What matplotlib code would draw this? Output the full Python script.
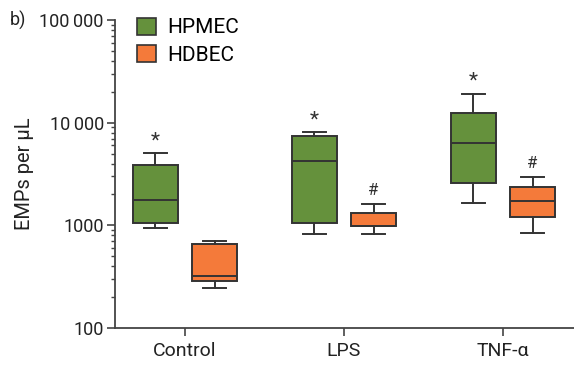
import matplotlib
matplotlib.use("Agg")
import matplotlib.pyplot as plt
from matplotlib.patches import Patch
from matplotlib.ticker import FixedLocator, LogLocator, NullFormatter

plt.rcParams["font.family"] = ["Roboto", "DejaVu Sans"]

groups = ["Control", "LPS", "TNF-\u03b1"]

# box statistics per group: lower whisker, Q1, median, Q3, upper whisker
hpmec_lo = [945, 821, 1644]
hpmec_q1 = [1050, 1050, 2575]
hpmec_med = [1770, 4270, 6300]
hpmec_q3 = [3880, 7470, 12420]
hpmec_hi = [5040, 8070, 19150]

hdbec_lo = [243, 821, 840]
hdbec_q1 = [284, 989, 1202]
hdbec_med = [318, 989, 1743]
hdbec_q3 = [656, 1315, 2370]
hdbec_hi = [707, 1630, 2985]

hpmec_marks = ["*", "*", "*"]
hdbec_marks = ["", "#", "#"]

GREEN = "#65913c"
ORANGE = "#f47a3a"
EDGE = "#333333"


def make_stats(lo, q1, med, q3, hi):
    return [
        dict(whislo=a, q1=b, med=c, q3=d, whishi=e, fliers=[])
        for a, b, c, d, e in zip(lo, q1, med, q3, hi)
    ]


fig = plt.figure(figsize=(5.74, 3.65), dpi=100)
ax = fig.add_axes([0.2003, 0.1014, 0.7997, 0.8438])

offset = 0.186
width = 0.283
pos = range(len(groups))

series = [
    (make_stats(hpmec_lo, hpmec_q1, hpmec_med, hpmec_q3, hpmec_hi), GREEN, -offset, hpmec_marks, hpmec_hi),
    (make_stats(hdbec_lo, hdbec_q1, hdbec_med, hdbec_q3, hdbec_hi), ORANGE, offset, hdbec_marks, hdbec_hi),
]
line = dict(color=EDGE, linewidth=1.4)
for stats, color, dx, marks, tops in series:
    xs = [p + dx for p in pos]
    ax.bxp(
        stats,
        positions=xs,
        widths=width,
        patch_artist=True,
        showfliers=False,
        boxprops=dict(facecolor=color, edgecolor=EDGE, linewidth=1.4),
        medianprops=line,
        whiskerprops=line,
        capprops=line,
        capwidths=width / 2,
        manage_ticks=False,
    )
    for x, m, top in zip(xs, marks, tops):
        if m:
            size = 15 if m == "*" else 12
            ax.annotate(m, (x, top), xytext=(0, 2 if m == "*" else 4),
                        textcoords="offset points", ha="center", va="bottom",
                        fontsize=size, color="#333333")

ax.set_yscale("log")
ax.set_ylim(100, 100000)
ax.set_xlim(-0.44, 2.447)

ax.yaxis.set_major_locator(FixedLocator([100, 1000, 10000, 100000]))
ax.set_yticklabels(["100", "1000", "10\u2009000", "100\u2009000"])
ax.yaxis.set_minor_locator(LogLocator(base=10, subs=range(2, 10)))
ax.yaxis.set_minor_formatter(NullFormatter())
ax.set_xticks(list(pos))
ax.set_xticklabels(groups)

for side in ("top", "right"):
    ax.spines[side].set_visible(False)
for side in ("left", "bottom"):
    ax.spines[side].set_color("#444444")
    ax.spines[side].set_linewidth(1.3)
ax.tick_params(axis="both", which="major", length=6, width=1.2, color="#444444",
               labelsize=13, labelcolor="#222222", pad=2)
ax.tick_params(axis="x", labelsize=14, pad=4)
ax.tick_params(axis="y", which="minor", length=3, width=1.0, color="#444444")

ax.set_ylabel("EMPs per \u00b5L", fontsize=14.5, color="#222222", labelpad=4)
fig.text(0.017, 0.945, "b)", fontsize=13, color="#222222", va="center")

handles = [
    Patch(facecolor=GREEN, edgecolor=EDGE, linewidth=1.2, label="HPMEC"),
    Patch(facecolor=ORANGE, edgecolor=EDGE, linewidth=1.2, label="HDBEC"),
]
ax.legend(handles=handles, loc="upper left", bbox_to_anchor=(0.03, 1.035),
          frameon=False, fontsize=15, handlelength=0.9, handleheight=0.9,
          handletextpad=0.55, labelspacing=0.35, borderaxespad=0)

fig.savefig("out.png", dpi=100)
